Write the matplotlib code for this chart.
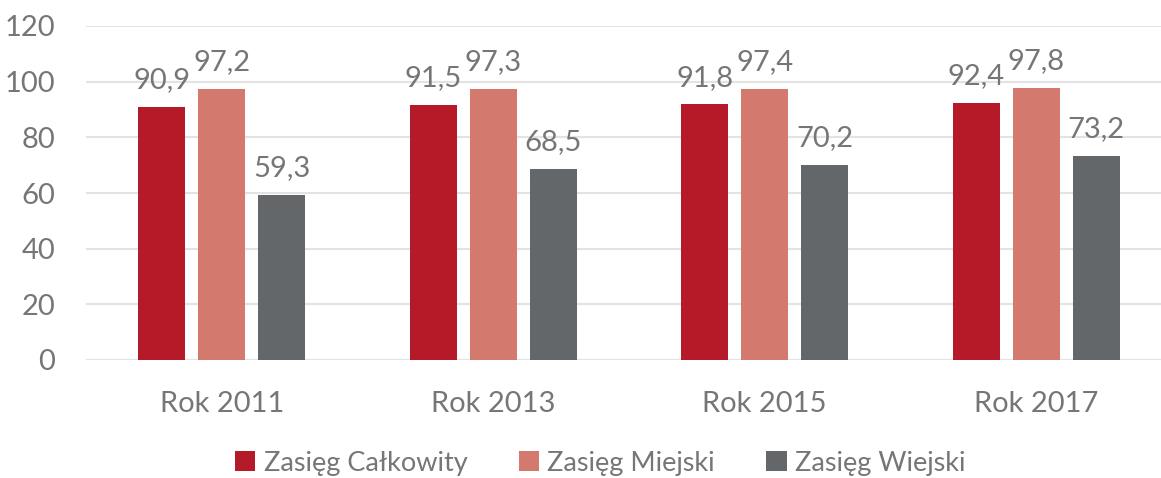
import matplotlib
matplotlib.use("Agg")
import matplotlib.pyplot as plt
import numpy as np

categories = ["Rok 2011", "Rok 2013", "Rok 2015", "Rok 2017"]
series_names = ["Zasięg Całkowity", "Zasięg Miejski", "Zasięg Wiejski"]
calkowity = [90.9, 91.5, 91.8, 92.4]
miejski = [97.2, 97.3, 97.4, 97.8]
wiejski = [59.3, 68.5, 70.2, 73.2]
yticks = [0, 20, 40, 60, 80, 100, 120]

colors = ["#B41A28", "#D3796D", "#636769"]
text_color = "#767676"

plt.rcParams['font.family'] = ['Lato', 'DejaVu Sans']

fig = plt.figure(figsize=(11.61, 4.78), dpi=100)
ax = fig.add_axes([86/1161, 1 - 360/478, (1161-86)/1161, (360-26)/478])

x = np.arange(len(categories))
step = 0.221
width = 0.173
for i, (vals, name, c) in enumerate(zip([calkowity, miejski, wiejski], series_names, colors)):
    pos = x + (i - 1) * step
    ax.bar(pos, vals, width, color=c, label=name, zorder=3)
    for p, v in zip(pos, vals):
        ax.text(p, v + 5.0, f"{v:.1f}".replace(".", ","), ha="center", va="bottom",
                fontsize=21, color=text_color)

ax.set_xlim(-0.5, 3.46)
ax.set_ylim(0, 120)
ax.set_yticks(yticks)
ax.set_yticklabels([str(t) for t in yticks])
ax.set_xticks(x)
ax.set_xticklabels(categories)
ax.tick_params(axis='both', length=0, labelsize=21, labelcolor=text_color)
ax.tick_params(axis='x', pad=22)
ax.tick_params(axis='y', pad=22)
ax.grid(axis='y', color="#E3E3E3", linewidth=1.5, zorder=0)
for s in ax.spines.values():
    s.set_visible(False)

fig.legend(loc="center", bbox_to_anchor=(0.517, 1 - 463/478), ncol=3, frameon=False,
           fontsize=19.5, handlelength=0.75, handleheight=0.75, handletextpad=0.3,
           columnspacing=1.9, labelcolor=text_color)

fig.savefig("out.png", dpi=100)
